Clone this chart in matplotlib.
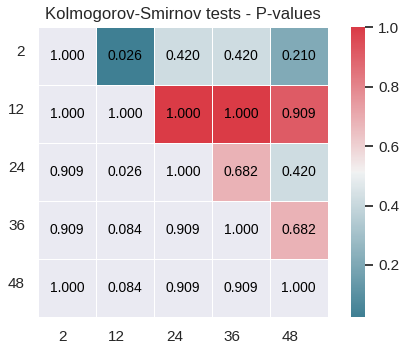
import numpy as np
import matplotlib
matplotlib.use("Agg")
import matplotlib.pyplot as plt
import seaborn as sns

# horizontes / etiquetas
etiquetas = [2, 12, 24, 36, 48]

# p-valores por fila
fila_2 = [1.000, 0.026, 0.420, 0.420, 0.210]
fila_12 = [1.000, 1.000, 1.000, 1.000, 0.909]
fila_24 = [0.909, 0.026, 1.000, 0.682, 0.420]
fila_36 = [0.909, 0.084, 0.909, 1.000, 0.682]
fila_48 = [1.000, 0.084, 0.909, 0.909, 1.000]

pvals = np.array([fila_2, fila_12, fila_24, fila_36, fila_48])

sns.set()
plt.rcParams['font.family'] = ['Liberation Sans', 'DejaVu Sans']

# solo la parte de arriba de la diagonal lleva color
mask = np.tril(np.ones_like(pvals, dtype=bool))
cmap = sns.diverging_palette(220, 10, as_cmap=True)

fig = plt.figure(figsize=(4.04, 3.49), dpi=100)
ax = fig.add_axes([0.0948, 0.0926, 0.7163, 0.8292])
cax = fig.add_axes([0.868, 0.0926, 0.0347, 0.8292])

sns.heatmap(pvals, mask=mask, cmap=cmap, ax=ax, cbar_ax=cax, linewidths=0.6,
            xticklabels=etiquetas, yticklabels=etiquetas)
ax.grid(False)

# anotaciones en todas las celdas
for i in range(pvals.shape[0]):
    for j in range(pvals.shape[1]):
        ax.text(j + 0.5, i + 0.5, "%.3f" % pvals[i, j], ha='center', va='center',
                color='black', fontsize=10)

for t in ax.get_xticklabels():
    t.set_ha('right')
for t in ax.get_yticklabels():
    t.set_rotation(0)
    t.set_va('baseline')

cax.tick_params(right=True, length=6, width=1.25, color='#262626')

ax.set_title("Kolmogorov-Smirnov tests - P-values")

fig.savefig("out.png", dpi=100)
